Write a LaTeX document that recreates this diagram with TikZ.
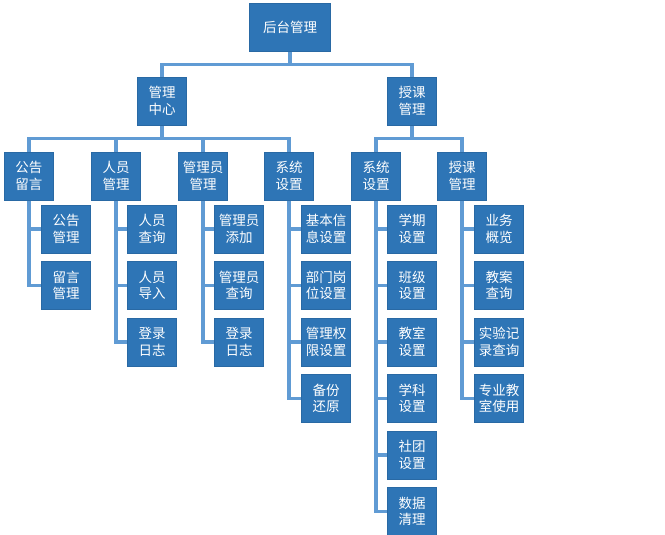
\documentclass[tikz,border=0pt]{standalone}
\usepackage{fontspec}
\newfontfamily\cjk{Noto Sans CJK SC}
\usepackage{tikz}
\usetikzlibrary{positioning, backgrounds}
\definecolor{boxblue}{RGB}{46,117,182}
\definecolor{lineblue}{RGB}{96,155,212}
\tikzset{
  % --- Cay chuc nang -----------------------------------------
  mbox/.style={draw=boxblue!90!black, fill=boxblue, text=white,
    minimum width=49pt, minimum height=48pt, inner sep=0pt,
    align=center, font=\cjk\fontsize{13.5}{16.5}\selectfont},
  rootbox/.style={mbox, minimum width=81pt},
  link/.style={draw=lineblue, line width=3.2pt}
}

\begin{document}
\begin{tikzpicture}[x=1pt, y=-1pt]
  \useasboundingbox (0,0) rectangle (665,535);

  % --- Goc va nhanh chinh ------------------------------------------
  \node[rootbox] (HT) at (290,27) {后台管理};
  \node[mbox] (GL) at (162,101) {管理\\中心};
  \node[mbox] (SK) at (412,101) {授课\\管理};

  % --- Cap 2 --------------------------------------------------------
  \node[mbox] (GG)  at (29,176)  {公告\\留言};
  \node[mbox] (RY)  at (116,176) {人员\\管理};
  \node[mbox] (GLY) at (203,176) {管理员\\管理};
  \node[mbox] (XT)  at (289,176) {系统\\设置};
  \node[mbox] (XS)  at (376,176) {系统\\设置};
  \node[mbox] (SG)  at (462,176) {授课\\管理};

  % --- Cap 3: cong cao / luu ngon ----------------------------------
  \node[mbox] (GG1) at (66,229)   {公告\\管理};
  \node[mbox] (GG2) at (66,285.5) {留言\\管理};

  % --- Cap 3: nhan vien ----------------------------------------------
  \node[mbox] (RY1) at (152,229)   {人员\\查询};
  \node[mbox] (RY2) at (152,285.5) {人员\\导入};
  \node[mbox] (RY3) at (152,342)   {登录\\日志};

  % --- Cap 3: quan tri vien -----------------------------------------
  \node[mbox] (GLY1) at (239,229)   {管理员\\添加};
  \node[mbox] (GLY2) at (239,285.5) {管理员\\查询};
  \node[mbox] (GLY3) at (239,342)   {登录\\日志};

  % --- Cap 3: thiet lap he thong ------------------------------------
  \node[mbox] (XT1) at (326,229)   {基本信\\息设置};
  \node[mbox] (XT2) at (326,285.5) {部门岗\\位设置};
  \node[mbox] (XT3) at (326,342)   {管理权\\限设置};
  \node[mbox] (XT4) at (326,398.5) {备份\\还原};

  % --- Cap 3: thiet lap giang day -----------------------------------
  \node[mbox] (XS1) at (412,229)   {学期\\设置};
  \node[mbox] (XS2) at (412,285.5) {班级\\设置};
  \node[mbox] (XS3) at (412,342)   {教室\\设置};
  \node[mbox] (XS4) at (412,398.5) {学科\\设置};
  \node[mbox] (XS5) at (412,455)   {社团\\设置};
  \node[mbox] (XS6) at (412,511.5) {数据\\清理};

  % --- Cap 3: quan ly giang day -------------------------------------
  \node[mbox] (SG1) at (499,229)   {业务\\概览};
  \node[mbox] (SG2) at (499,285.5) {教案\\查询};
  \node[mbox] (SG3) at (499,342)   {实验记\\录查询};
  \node[mbox] (SG4) at (499,398.5) {专业教\\室使用};

  % --- Duong noi ------------------------------------------------------
  \begin{scope}[on background layer]
    \foreach \c in {GL,SK} \draw[link] (HT.south) -- ++(0,13) -| (\c.north);
    \foreach \c in {GG,RY,GLY,XT} \draw[link] (GL.south) -- ++(0,13) -| (\c.north);
    \foreach \c in {XS,SG} \draw[link] (SK.south) -- ++(0,13) -| (\c.north);
    \foreach \p/\c in {GG/GG1, GG/GG2, RY/RY1, RY/RY2, RY/RY3,
                       GLY/GLY1, GLY/GLY2, GLY/GLY3,
                       XT/XT1, XT/XT2, XT/XT3, XT/XT4,
                       XS/XS1, XS/XS2, XS/XS3, XS/XS4, XS/XS5, XS/XS6,
                       SG/SG1, SG/SG2, SG/SG3, SG/SG4}
      \draw[link] (\p.south) |- (\c.west);
  \end{scope}

\end{tikzpicture}
\end{document}
